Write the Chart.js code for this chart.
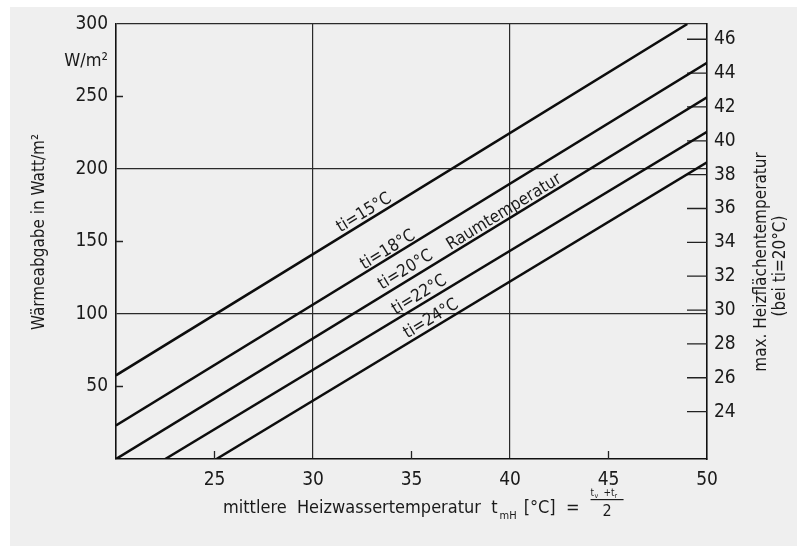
<!DOCTYPE html>
<html>
<head>
<meta charset="utf-8">
<script src="https://cdn.jsdelivr.net/npm/chart.js@4.4.1/dist/chart.umd.min.js"></script>
<style>
  html, body { margin: 0; padding: 0; background: #fff; }
  #wrap { width: 797px; height: 546px; }
</style>
</head>
<body>
<div id="wrap"><canvas id="heatChart" width="797" height="546"></canvas></div>
<script>
// Wärmeabgabe over mittlere Heizwassertemperatur, one straight line per Raumtemperatur
const roomTemps = ['ti=15°C', 'ti=18°C', 'ti=20°C', 'ti=22°C', 'ti=24°C'];
const startTemp = [20, 20, 20, 22.5, 25.1];
const startHeat = [57.7, 23.2, 0, 0, 0];
const endTemp = [49.0, 50, 50, 50, 50];
const endHeat = [300, 273.3, 249.4, 225.7, 204.6];

const xTicks = [25, 30, 35, 40, 45, 50];
const yTicks = [50, 100, 150, 200, 250, 300];
const surfaceTicks = [24, 26, 28, 30, 32, 34, 36, 38, 40, 42, 44, 46];

const FONT = "'DejaVu Sans Condensed', 'Liberation Sans Narrow', sans-serif";
const INK = '#1a1a1a';

// where the line names sit (data coords of the text centre)
const lineLabels = [
  { text: 'ti=15°C', x: 32.6, y: 169.7 },
  { text: 'ti=18°C', x: 33.8, y: 144.1 },
  { text: 'ti=20°C', x: 34.7, y: 130.3 },
  { text: 'ti=22°C', x: 35.4, y: 113.1 },
  { text: 'ti=24°C', x: 36.0, y: 96.6 },
  { text: 'Raumtemperatur', x: 39.7, y: 170.3 }
];

const datasets = roomTemps.map((name, i) => ({
  label: name,
  data: [{ x: startTemp[i], y: startHeat[i] }, { x: endTemp[i], y: endHeat[i] }],
  borderColor: '#0d0d0d',
  borderWidth: 2.5,
  pointRadius: 0,
  showLine: true,
  fill: false
}));

const paperPlugin = {
  id: 'paper',
  beforeDraw(chart) {
    const ctx = chart.ctx;
    ctx.save();
    ctx.fillStyle = '#ffffff';
    ctx.fillRect(0, 0, chart.width, chart.height);
    ctx.fillStyle = '#efefef';
    ctx.fillRect(10, 7, chart.width - 10, chart.height - 7);
    ctx.restore();
  }
};

function darkAt(values) {
  return c => values.includes(c.tick.value) ? '#2a2a2a' : 'rgba(0,0,0,0)';
}

// short tick marks pointing into the plot
const innerTicks = {
  id: 'innerTicks',
  beforeDatasetsDraw(chart) {
    const { ctx, chartArea: a, scales } = chart;
    ctx.save();
    ctx.strokeStyle = '#222';
    ctx.lineWidth = 1.3;
    ctx.beginPath();
    [25, 35, 45].forEach(v => {
      const px = scales.x.getPixelForValue(v);
      ctx.moveTo(px, a.bottom);
      ctx.lineTo(px, a.bottom - 8);
    });
    [50, 150, 250].forEach(v => {
      const py = scales.y.getPixelForValue(v);
      ctx.moveTo(a.left, py);
      ctx.lineTo(a.left + 7, py);
    });
    surfaceTicks.forEach(v => {
      const py = scales.y2.getPixelForValue(v);
      ctx.moveTo(a.right, py);
      ctx.lineTo(a.right - 20, py);
    });
    ctx.stroke();
    ctx.restore();
  }
};

const textPlugin = {
  id: 'texts',
  afterDraw(chart) {
    const { ctx, chartArea: a, scales } = chart;
    const sx = scales.x, sy = scales.y;
    ctx.save();
    ctx.fillStyle = INK;

    // labels along the lines
    const p1 = { x: sx.getPixelForValue(startTemp[2]), y: sy.getPixelForValue(startHeat[2]) };
    const p2 = { x: sx.getPixelForValue(endTemp[2]), y: sy.getPixelForValue(endHeat[2]) };
    const ang = Math.atan2(p2.y - p1.y, p2.x - p1.x);
    ctx.font = '17px ' + FONT;
    ctx.textAlign = 'center';
    ctx.textBaseline = 'middle';
    lineLabels.forEach(l => {
      ctx.save();
      ctx.translate(sx.getPixelForValue(l.x), sy.getPixelForValue(l.y));
      ctx.rotate(ang);
      ctx.fillText(l.text, 0, 0);
      ctx.restore();
    });

    // unit under the top tick
    ctx.font = '18px ' + FONT;
    ctx.textAlign = 'right';
    ctx.fillText('W/m²', a.left - 8, a.top + 37);

    // left axis title
    ctx.save();
    ctx.translate(40, 232);
    ctx.rotate(-Math.PI / 2);
    ctx.textAlign = 'center';
    ctx.font = '17px ' + FONT;
    ctx.fillText('Wärmeabgabe in Watt/m²', 0, 0);
    ctx.restore();

    // right axis title, two lines
    ctx.save();
    ctx.translate(762, 262);
    ctx.rotate(-Math.PI / 2);
    ctx.textAlign = 'center';
    ctx.font = '17px ' + FONT;
    ctx.fillText('max. Heizflächentemperatur', 0, 0);
    ctx.fillText('(bei ti=20°C)', -4, 19);
    ctx.restore();

    // bottom title with subscript and fraction
    ctx.textAlign = 'left';
    ctx.textBaseline = 'alphabetic';
    const base = 513;
    let x = 223;
    ctx.font = '18px ' + FONT;
    const main = 'mittlere  Heizwassertemperatur  t';
    ctx.fillText(main, x, base);
    x += ctx.measureText(main).width + 2;
    ctx.font = '11px ' + FONT;
    ctx.fillText('mH', x, base + 6);
    x += ctx.measureText('mH').width + 7;
    ctx.font = '18px ' + FONT;
    ctx.fillText('[°C]  =', x, base);
    x += ctx.measureText('[°C]  =').width + 11;
    ctx.font = '10px ' + FONT;
    ctx.fillText('t', x, base - 17);
    ctx.font = '7px ' + FONT;
    ctx.fillText('v', x + 4, base - 15);
    ctx.font = '10px ' + FONT;
    ctx.fillText('+t', x + 13, base - 17);
    ctx.font = '7px ' + FONT;
    ctx.fillText('r', x + 24, base - 15);
    ctx.fillRect(x, base - 14, 33, 1.2);
    ctx.font = '16px ' + FONT;
    ctx.fillText('2', x + 12, base + 3);
    ctx.restore();
  }
};

new Chart(document.getElementById('heatChart'), {
  type: 'scatter',
  data: { datasets },
  plugins: [paperPlugin, innerTicks, textPlugin],
  options: {
    responsive: false,
    animation: false,
    devicePixelRatio: 1,
    layout: { padding: { top: 24, left: 0, right: 0, bottom: 0 } },
    plugins: { legend: { display: false }, tooltip: { enabled: false } },
    scales: {
      x: {
        type: 'linear',
        min: 20,
        max: 50,
        afterBuildTicks: s => { s.ticks = xTicks.map(v => ({ value: v })); },
        afterFit: s => { s.height = 87; },
        ticks: { color: INK, font: { family: FONT, size: 19 }, padding: 10 },
        grid: { color: darkAt([30, 40]), lineWidth: 1.2, drawTicks: false },
        border: { color: '#111', width: 1.6 }
      },
      y: {
        type: 'linear',
        min: 0,
        max: 300,
        afterBuildTicks: s => { s.ticks = yTicks.map(v => ({ value: v })); },
        afterFit: s => { s.width = 116; },
        ticks: { color: INK, font: { family: FONT, size: 19 }, padding: 8 },
        grid: { color: darkAt([100, 200, 300]), lineWidth: 1.2, drawTicks: false },
        border: { color: '#111', width: 1.6 }
      },
      y2: {
        type: 'linear',
        position: 'right',
        min: 21.2,
        max: 46.9,
        afterBuildTicks: s => { s.ticks = surfaceTicks.map(v => ({ value: v })); },
        afterFit: s => { s.width = 90; },
        ticks: { color: INK, font: { family: FONT, size: 19 }, padding: 7 },
        grid: { drawOnChartArea: false, drawTicks: false },
        border: { color: '#111', width: 1.6 }
      }
    }
  }
});
</script>
</body>
</html>
